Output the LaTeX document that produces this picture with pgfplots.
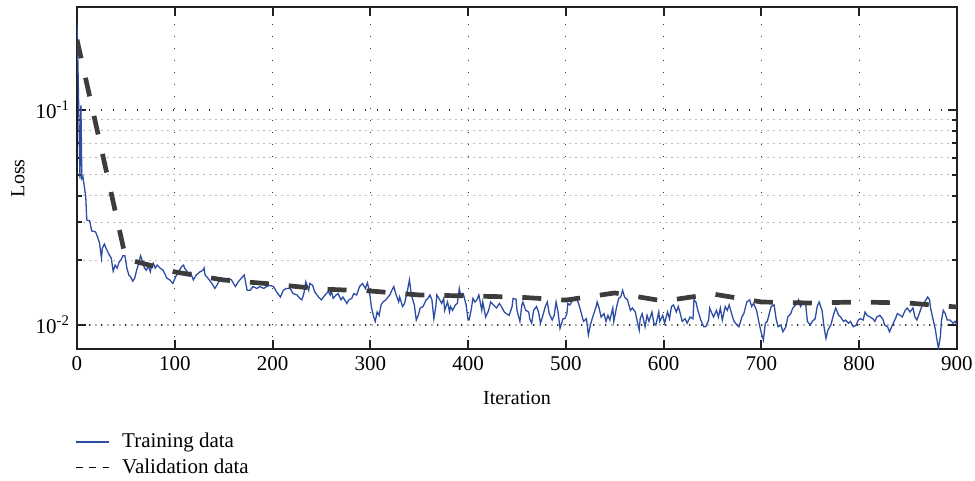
\documentclass[border=0pt]{standalone}
\usepackage{fontspec}
\setmainfont{Liberation Serif}
\usepackage{pgfplots}
\pgfplotsset{compat=1.18}
\definecolor{traincol}{RGB}{44,77,163}
\definecolor{valcol}{RGB}{60,60,60}
\definecolor{framecol}{RGB}{35,31,32}
\newcommand{\chartfont}{\fontsize{10.5pt}{12.6pt}\selectfont}

\begin{document}
\begin{tikzpicture}
\begin{axis}[
    at={(0,0)}, anchor=south west,
    scale only axis, width=440pt, height=170.85pt,
    ymode=log,
    xmin=0, xmax=900, ymin=0.00774, ymax=0.3,
    xtick={0,100,...,900},
    ytick={0.01,0.1},
    yticklabels={10\textsuperscript{-2},10\textsuperscript{-1}},
    /pgf/number format/assume math mode=true,
    tick label style={font=\chartfont},
    label style={font=\chartfont},
    xlabel={Iteration}, ylabel={Loss},
    every axis x label/.style={at={(axis description cs:0.5,0)}, anchor=center, yshift=-24.5pt},
    every axis y label/.style={at={(axis description cs:-0.067,0.5)}, rotate=90, anchor=center},
    axis line style={line width=1.1pt, framecol},
    every tick/.style={line width=1pt, framecol},
    major tick length=4.5pt, minor tick length=2.5pt,
    grid=both,
    major grid style={dash pattern=on 0.7pt off 5.3pt, black!80, line width=0.6pt},
    minor grid style={dash pattern=on 0.8pt off 2.2pt, black!28, line width=0.7pt},
    legend style={at={(axis description cs:0,0)}, anchor=north west, yshift=-38pt, xshift=-1pt,
        draw=none, fill=none, inner xsep=0pt, font=\chartfont},
    legend cell align=left,
]
\addplot[traincol, line width=0.65pt,
    legend image code/.code={\draw[traincol, line width=0.8pt, solid] (0pt,0pt) -- (16.5pt,0pt);
        \path[draw=none] (0pt,0pt) -- (21pt,0pt);}]
table {
0 0.254
1 0.160
2 0.090
3 0.048
4 0.105
5 0.048
6 0.049
8 0.0425
9 0.039
10 0.0308
13 0.0305
15 0.0274
19 0.0271
21 0.0257
23 0.0241
25 0.0205
26 0.0228
28 0.0238
30 0.0226
33 0.0212
35 0.0205
37 0.0178
39 0.0190
41 0.0184
43 0.0196
45 0.0201
47 0.0210
49 0.0210
51 0.0184
53 0.0171
55 0.0167
57 0.0160
59 0.0165
61 0.0180
63 0.0193
65 0.0210
67 0.0198
69 0.0184
71 0.0180
73 0.0188
75 0.0177
76 0.0187
78 0.0194
80 0.0184
82 0.0190
85 0.0184
88 0.0180
92 0.0165
95 0.0162
98 0.0156
101 0.0168
104 0.0177
107 0.0187
109 0.0190
110 0.0184
114 0.0174
116 0.0176
119 0.0162
122 0.0171
126 0.0177
129 0.0180
130 0.0184
131 0.0171
134 0.0165
138 0.0156
141 0.0148
143 0.0153
146 0.0162
148 0.0165
151 0.0162
155 0.0165
158 0.0162
162 0.0151
165 0.0159
168 0.0165
171 0.0171
174 0.0145
177 0.0145
180 0.0151
184 0.0148
187 0.0151
191 0.0148
194 0.0151
197 0.0153
201 0.0151
204 0.0143
208 0.0135
211 0.0145
214 0.0148
218 0.0148
221 0.0140
225 0.0138
228 0.0133
230 0.0131
232 0.0140
234 0.0159
237 0.0145
238 0.0156
241 0.0153
243 0.0143
247 0.0135
250 0.0131
252 0.0135
255 0.0140
257 0.0143
259 0.0138
260 0.0145
262 0.0133
265 0.0138
267 0.0140
270 0.0131
272 0.0135
276 0.0126
278 0.0131
281 0.0133
283 0.0140
286 0.0138
289 0.0151
292 0.0156
295 0.0148
297 0.0157
299 0.0145
301 0.0122
303 0.0111
305 0.0104
307 0.0115
309 0.0111
311 0.0124
313 0.0128
316 0.0131
318 0.0135
320 0.0138
322 0.0145
324 0.0151
326 0.0140
329 0.0128
330 0.0135
333 0.0122
335 0.0126
338 0.0145
340 0.0162
342 0.0138
345 0.0124
347 0.01055
349 0.0111
351 0.0120
354 0.0122
357 0.0131
359 0.0133
361 0.0138
363 0.0131
365 0.0107
367 0.0122
368 0.0138
371 0.0131
373 0.0126
375 0.0133
376 0.0117
379 0.0128
381 0.0115
382 0.0122
384 0.0117
387 0.0124
389 0.0126
391 0.0148
392 0.0140
395 0.0140
398 0.0124
400 0.01055
401 0.01055
403 0.0117
405 0.0133
407 0.0128
409 0.0131
411 0.0138
414 0.0117
415 0.0128
418 0.0109
421 0.0117
423 0.0128
426 0.0124
429 0.0120
432 0.0126
434 0.0122
437 0.0115
439 0.0113
442 0.0111
445 0.0122
446 0.0133
449 0.0132
450 0.0117
453 0.0104
455 0.0124
456 0.0128
459 0.0117
462 0.0115
463 0.0107
465 0.0102
467 0.0117
470 0.0122
472 0.0115
474 0.0102
476 0.0109
479 0.0122
481 0.0128
483 0.0113
486 0.01055
488 0.0111
490 0.0128
492 0.0115
494 0.00965
497 0.0107
499 0.0107
501 0.0113
502 0.0126
504 0.0124
508 0.0133
510 0.0135
513 0.0126
515 0.0117
518 0.0104
521 0.0107
523 0.00899
525 0.0100
528 0.0111
531 0.0122
532 0.0128
534 0.0120
536 0.0109
539 0.0113
541 0.0104
543 0.0111
545 0.01055
548 0.0120
549 0.0104
552 0.0122
554 0.0133
556 0.0135
558 0.0145
560 0.0135
563 0.0131
566 0.0117
568 0.0120
571 0.0115
573 0.0104
575 0.00948
576 0.0107
578 0.0113
581 0.00982
583 0.0111
585 0.0104
588 0.0115
590 0.0102
592 0.0100
595 0.0115
596 0.0104
599 0.0111
601 0.0102
604 0.0115
606 0.0107
608 0.0122
610 0.0124
613 0.0115
615 0.0122
617 0.0113
619 0.0104
622 0.0107
624 0.0102
627 0.0109
630 0.0107
631 0.0131
633 0.0128
635 0.0117
638 0.01055
641 0.00982
643 0.00982
646 0.01055
647 0.0120
651 0.0109
654 0.0117
656 0.0109
658 0.0120
660 0.01055
663 0.0122
665 0.0117
667 0.0124
670 0.0111
672 0.0104
675 0.0100
677 0.00982
680 0.0109
682 0.0113
685 0.0128
688 0.0131
690 0.0122
692 0.0126
695 0.0117
698 0.0100
700 0.00915
702 0.00852
704 0.0102
706 0.0104
708 0.0113
710 0.0122
713 0.0124
715 0.0107
717 0.00982
720 0.0100
722 0.00931
725 0.00982
727 0.0109
730 0.0113
732 0.0120
735 0.0124
738 0.0131
740 0.0122
742 0.0126
745 0.0128
747 0.0104
750 0.0100
752 0.0104
755 0.0107
757 0.0122
759 0.0128
762 0.0117
764 0.00982
766 0.00867
768 0.00948
771 0.0100
774 0.0113
776 0.0120
779 0.0111
781 0.0109
784 0.0104
786 0.01055
789 0.0102
791 0.0104
794 0.00982
797 0.0100
799 0.01055
801 0.0107
804 0.01055
806 0.0115
808 0.0111
811 0.0109
814 0.0107
816 0.0104
818 0.0109
821 0.0111
824 0.0107
826 0.0100
829 0.00982
831 0.00931
834 0.0100
837 0.0107
839 0.0113
842 0.0111
844 0.0109
847 0.0117
849 0.0120
852 0.0115
855 0.0120
857 0.0109
859 0.01055
862 0.0115
865 0.0126
867 0.0128
870 0.0135
872 0.0131
873 0.0120
875 0.0109
878 0.00948
879 0.00882
881 0.00779
883 0.00882
884 0.0104
886 0.0117
888 0.0113
890 0.01055
893 0.01055
896 0.0102
898 0.0104
900 0.0100
};
\addlegendentry{Training data}
\addplot[valcol, line width=2.35pt, dash pattern=on 9.5pt off 10pt,
    legend image code/.code={\draw[black, line width=0.6pt, dash pattern=on 3.2pt off 3.4pt] (0pt,0pt) -- (16.5pt,0pt);
        \path[draw=none] (0pt,0pt) -- (21pt,0pt);}]
coordinates {
(0,0.212) (50,0.0203) (100,0.01766) (150,0.0162) (200,0.0155)
(250,0.0147) (300,0.0144) (350,0.0138) (400,0.01365) (450,0.0135)
(500,0.01306) (550,0.0141) (600,0.01293) (650,0.01395) (700,0.0128)
(750,0.01266) (800,0.0128) (850,0.01266) (900,0.01213)
};
\addlegendentry{Validation data}
\end{axis}
\pgfresetboundingbox
\useasboundingbox (-38.5pt,-66pt) rectangle (449pt,174.5pt);
\end{tikzpicture}
\end{document}
